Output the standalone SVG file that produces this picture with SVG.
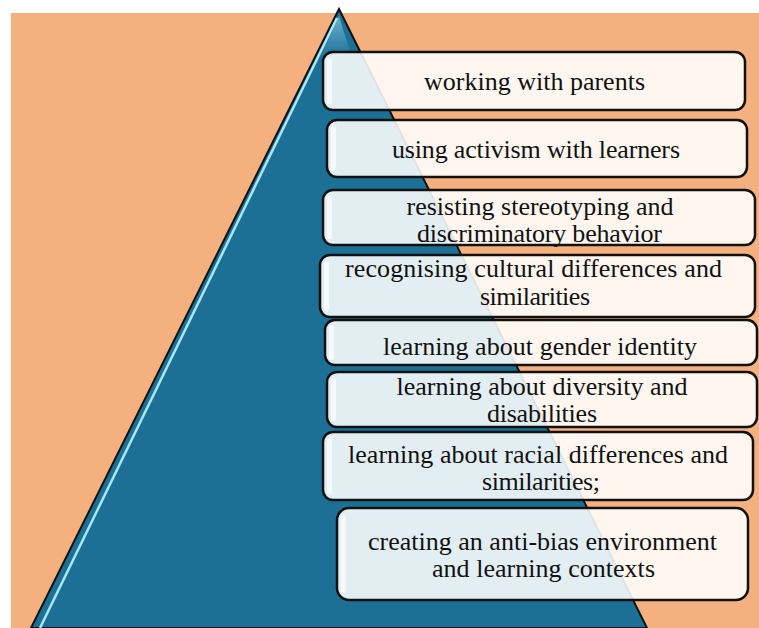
<svg xmlns="http://www.w3.org/2000/svg" width="759" height="628" viewBox="0 0 759 628">
  <style>
    .box { fill: #ffffff; fill-opacity: 0.88; stroke: #111111; stroke-width: 2.5; }
    .gloss { fill: #ffffff; fill-opacity: 0.7; }
    .label { font-family: "Liberation Serif", "Times New Roman", serif; font-size: 26px; fill: #111111; text-anchor: middle; }
  </style>
  <defs>
    <linearGradient id="apexShine" x1="0" y1="0" x2="0" y2="1">
      <stop offset="0" stop-color="#9fdcf0"/>
      <stop offset="1" stop-color="#1c7096"/>
    </linearGradient>
  </defs>

  <!-- page background -->
  <rect x="0" y="0" width="759" height="628" fill="#ffffff"/>
  <rect x="11" y="13" width="748" height="615" fill="#f5b07f"/>

  <!-- pyramid -->
  <g id="pyramid">
    <polygon points="339,9 31,628 647,628" fill="#1c7096" stroke="#111111" stroke-width="2"/>
    <polygon points="339,16 320,58 352,58" fill="url(#apexShine)" opacity="0.6"/>
    <line x1="337" y1="18" x2="40" y2="628" stroke="#a8e6f8" stroke-width="2.5"/>
  </g>

  <g id="tier-parents">
    <rect class="box" x="323" y="52" width="422" height="58" rx="10"/>
    <rect class="gloss" x="327" y="58" width="5" height="46" rx="2.5"/>
    <text class="label" x="534.5" y="90" textLength="221" lengthAdjust="spacing">working with parents</text>
  </g>

  <g id="tier-activism">
    <rect class="box" x="327" y="120" width="420" height="57" rx="10"/>
    <rect class="gloss" x="331" y="126" width="5" height="45" rx="2.5"/>
    <text class="label" x="536" y="158" textLength="288" lengthAdjust="spacing">using activism with learners</text>
  </g>

  <g id="tier-stereotyping">
    <rect class="box" x="323" y="190" width="432" height="55" rx="10"/>
    <rect class="gloss" x="327" y="196" width="5" height="43" rx="2.5"/>
    <text class="label" x="540" y="215" textLength="267" lengthAdjust="spacing">resisting stereotyping and</text>
    <text class="label" x="539.5" y="242" textLength="245" lengthAdjust="spacing">discriminatory behavior</text>
  </g>

  <g id="tier-cultural">
    <rect class="box" x="320" y="255" width="435" height="62" rx="10"/>
    <rect class="gloss" x="324" y="261" width="5" height="50" rx="2.5"/>
    <text class="label" x="533.5" y="277" textLength="377" lengthAdjust="spacing">recognising cultural differences and</text>
    <text class="label" x="535" y="305" textLength="110" lengthAdjust="spacing">similarities</text>
  </g>

  <g id="tier-gender">
    <rect class="box" x="325" y="320" width="432" height="45" rx="10"/>
    <rect class="gloss" x="329" y="325" width="5" height="35" rx="2.5"/>
    <text class="label" x="540" y="355" textLength="314" lengthAdjust="spacing">learning about gender identity</text>
  </g>

  <g id="tier-diversity">
    <rect class="box" x="327" y="372" width="430" height="55" rx="10"/>
    <rect class="gloss" x="331" y="378" width="5" height="43" rx="2.5"/>
    <text class="label" x="542" y="395" textLength="291" lengthAdjust="spacing">learning about diversity and</text>
    <text class="label" x="542" y="422" textLength="110" lengthAdjust="spacing">disabilities</text>
  </g>

  <g id="tier-racial">
    <rect class="box" x="323" y="432" width="430" height="68" rx="10"/>
    <rect class="gloss" x="327" y="438" width="5" height="56" rx="2.5"/>
    <text class="label" x="538" y="463" textLength="380" lengthAdjust="spacing">learning about racial differences and</text>
    <text class="label" x="541" y="490" textLength="118" lengthAdjust="spacing">similarities;</text>
  </g>

  <g id="tier-environment">
    <rect class="box" x="337" y="508" width="411" height="92" rx="12"/>
    <rect class="gloss" x="341" y="515" width="5" height="78" rx="2.5"/>
    <text class="label" x="542.5" y="550" textLength="349" lengthAdjust="spacing">creating an anti-bias environment</text>
    <text class="label" x="543.5" y="577" textLength="223" lengthAdjust="spacing">and learning contexts</text>
  </g>
</svg>
